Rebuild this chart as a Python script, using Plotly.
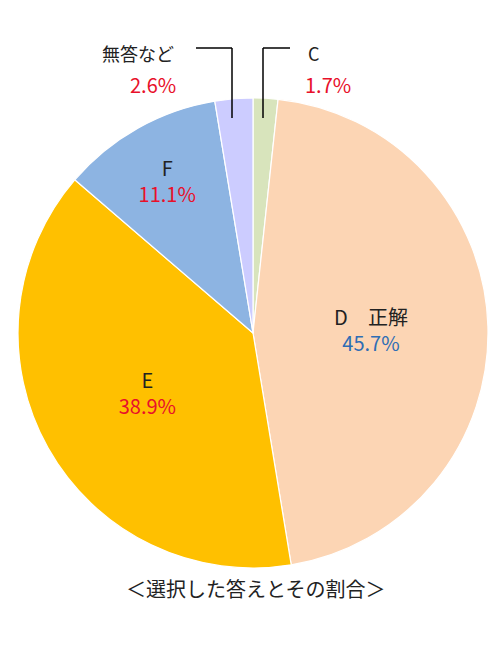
import plotly.graph_objects as go

labels = ["C", "D\u3000正解", "E", "F", "無答など"]
values = [1.7, 45.7, 38.9, 11.1, 2.6]
colors = ["#d8e4bc", "#fcd5b4", "#ffc000", "#8db4e2", "#ccccff"]
pct_colors = ["#e8102a", "#2e6db4", "#e8102a", "#e8102a", "#e8102a"]

W, H = 500, 660
OFF = 8  # page body margin

texts = []
for i, (l, v) in enumerate(zip(labels, values)):
    if v < 5:
        texts.append("")
    else:
        texts.append(f"<span style='color:#222'>{l}</span><br><span style='color:{pct_colors[i]}'>{v}%</span>")

fig = go.Figure(go.Pie(
    labels=labels, values=values, sort=False, direction="clockwise", rotation=0,
    marker=dict(colors=colors, line=dict(color="white", width=1.2)),
    text=texts, texttemplate="%{text}", textposition="inside",
    insidetextorientation="horizontal", textfont=dict(size=20),
    domain=dict(x=[(18 - OFF) / W, (488 - OFF) / W], y=[(92 + OFF) / H, (562 + OFF) / H]),
    hoverinfo="skip", showlegend=False,
))

def px(x, y):
    return (x - OFF) / W, 1 - (y - OFF) / H

shapes = []
for pts in ([(232, 118), (232, 48), (196, 48)], [(263, 118), (263, 48), (290, 48)]):
    for (x0, y0), (x1, y1) in zip(pts[:-1], pts[1:]):
        a, b = px(x0, y0)
        c, d = px(x1, y1)
        shapes.append(dict(type="line", xref="paper", yref="paper", x0=a, y0=b, x1=c, y1=d,
                           line=dict(color="black", width=1.5)))

ann = []
for lab, v, x, y, xa in [(labels[4], values[4], 176, 38, "right"), (labels[0], values[0], 306, 38, "left")]:
    ax, ay = px(x, y)
    ann.append(dict(x=ax, y=ay, xref="paper", yref="paper", showarrow=False, xanchor=xa,
                    text=lab, font=dict(size=18, color="#222")))
    ax, ay = px(x + 2 if xa == "right" else x - 3, y + 30)
    ann.append(dict(x=ax, y=ay, xref="paper", yref="paper", showarrow=False, xanchor=xa,
                    text=f"{v}%", font=dict(size=20, color="#e8102a")))
ax, ay = px(255, 605)
ann.append(dict(x=ax, y=ay, xref="paper", yref="paper", showarrow=False,
                text="＜選択した答えとその割合＞", font=dict(size=20, color="#222")))

fig.update_layout(width=W, height=H, margin=dict(l=0, r=0, t=0, b=0),
                  paper_bgcolor="white", font=dict(family="Noto Sans CJK JP"),
                  shapes=shapes, annotations=ann)
fig.write_html("out.html")
